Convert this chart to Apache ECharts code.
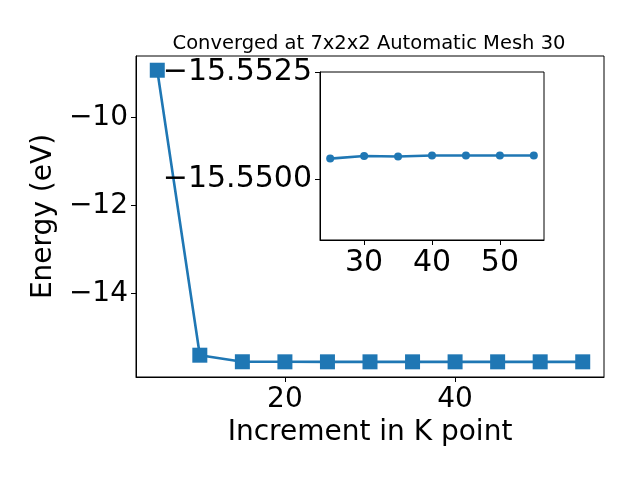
<!DOCTYPE html>
<html>
<head>
<meta charset="utf-8">
<script src="https://cdn.jsdelivr.net/npm/echarts@6/dist/echarts.min.js"></script>
<style>html,body{margin:0;padding:0;background:#fff}#c{width:640px;height:480px}</style>
</head>
<body>
<div id="c"></div>
<script>
var kPoints = [5, 10, 15, 20, 25, 30, 35, 40, 45, 50, 55];
var energy = [-8.93, -15.40, -15.549, -15.5503, -15.55049, -15.55055, -15.55054, -15.55056, -15.55056, -15.55056, -15.55056];
var insetStart = 25;
var mainXTicks = [20, 40];
var mainYTicks = [-14, -12, -10];
var insetXTicks = [30, 40, 50];
var insetYTicks = [-15.5525, -15.5500];
var titleText = 'Converged at 7x2x2 Automatic Mesh 30';
var xName = 'Increment in K point';
var yName = 'Energy (eV)';

var mainData = kPoints.map(function (k, i) { return [k, energy[i]]; });
var insetData = mainData.filter(function (d) { return d[0] >= insetStart; });

var FONT = 'DejaVu Sans';
var C = '#1f77b4';
function minusFmt(v, dec) {
  var s = Math.abs(v).toFixed(dec);
  return (v < 0 ? '\u2212' : '') + s;
}
var axisCommon = {
  axisLine: { show: true, lineStyle: { color: '#000', width: 1 } },
  splitLine: { show: false },
  axisTick: { show: true, inside: false, length: 5, lineStyle: { color: '#000', width: 1 } }
};

var chart = echarts.init(document.getElementById('c'), null, { renderer: 'canvas' });
chart.setOption({
  animation: false,
  backgroundColor: '#fff',
  title: {
    text: titleText, left: 364, top: 29, textAlign: 'center',
    textStyle: { fontFamily: FONT, fontSize: 19.5, fontWeight: 'normal', color: '#000' }
  },
  grid: [
    { left: 136, top: 56, right: 36, bottom: 103, show: true, borderColor: '#000', borderWidth: 1, backgroundColor: 'transparent', z: 0 },
    { left: 320, top: 72, width: 224, height: 168, show: true, borderColor: '#000', borderWidth: 1, backgroundColor: '#fff', z: 5 }
  ],
  xAxis: [
    Object.assign({}, axisCommon, {
      type: 'value', gridIndex: 0, min: 2.5, max: 57.5,
      name: xName, nameLocation: 'middle', nameGap: 42,
      nameTextStyle: { fontFamily: FONT, fontSize: 28, color: '#000' },
      axisTick: Object.assign({}, axisCommon.axisTick, { customValues: mainXTicks }),
      axisLabel: { customValues: mainXTicks, fontFamily: FONT, fontSize: 28, color: '#000', margin: 9,
        formatter: function (v) { return minusFmt(v, 0); } }
    }),
    Object.assign({}, axisCommon, {
      type: 'value', gridIndex: 1, min: 23.5, max: 56.5, z: 6,
      axisTick: Object.assign({}, axisCommon.axisTick, { customValues: insetXTicks }),
      axisLabel: { customValues: insetXTicks, fontFamily: FONT, fontSize: 30, color: '#000', margin: 8,
        formatter: function (v) { return minusFmt(v, 0); } }
    })
  ],
  yAxis: [
    Object.assign({}, axisCommon, {
      type: 'value', gridIndex: 0, min: -15.895, max: -8.607,
      name: yName, nameLocation: 'middle', nameGap: 76, nameRotate: 90,
      nameTextStyle: { fontFamily: FONT, fontSize: 28, color: '#000' },
      axisTick: Object.assign({}, axisCommon.axisTick, { customValues: mainYTicks }),
      axisLabel: { customValues: mainYTicks, fontFamily: FONT, fontSize: 28, color: '#000', margin: 8,
        formatter: function (v) { return minusFmt(v, 0); } }
    }),
    Object.assign({}, axisCommon, {
      type: 'value', gridIndex: 1, min: -15.5525, max: -15.5486, inverse: true, z: 6,
      axisTick: Object.assign({}, axisCommon.axisTick, { customValues: insetYTicks }),
      axisLabel: { customValues: insetYTicks, fontFamily: FONT, fontSize: 30, color: '#000', margin: 8,
        formatter: function (v) { return minusFmt(v, 4); } }
    })
  ],
  series: [
    {
      type: 'line', xAxisIndex: 0, yAxisIndex: 0, data: mainData, z: 2,
      symbol: 'rect', symbolSize: 15, color: C,
      lineStyle: { color: C, width: 2.6 }, itemStyle: { color: C }
    },
    {
      type: 'line', xAxisIndex: 1, yAxisIndex: 1, data: insetData, z: 7,
      symbol: 'circle', symbolSize: 8, color: C,
      lineStyle: { color: C, width: 2.6 }, itemStyle: { color: C }
    }
  ]
});
</script>
</body>
</html>
